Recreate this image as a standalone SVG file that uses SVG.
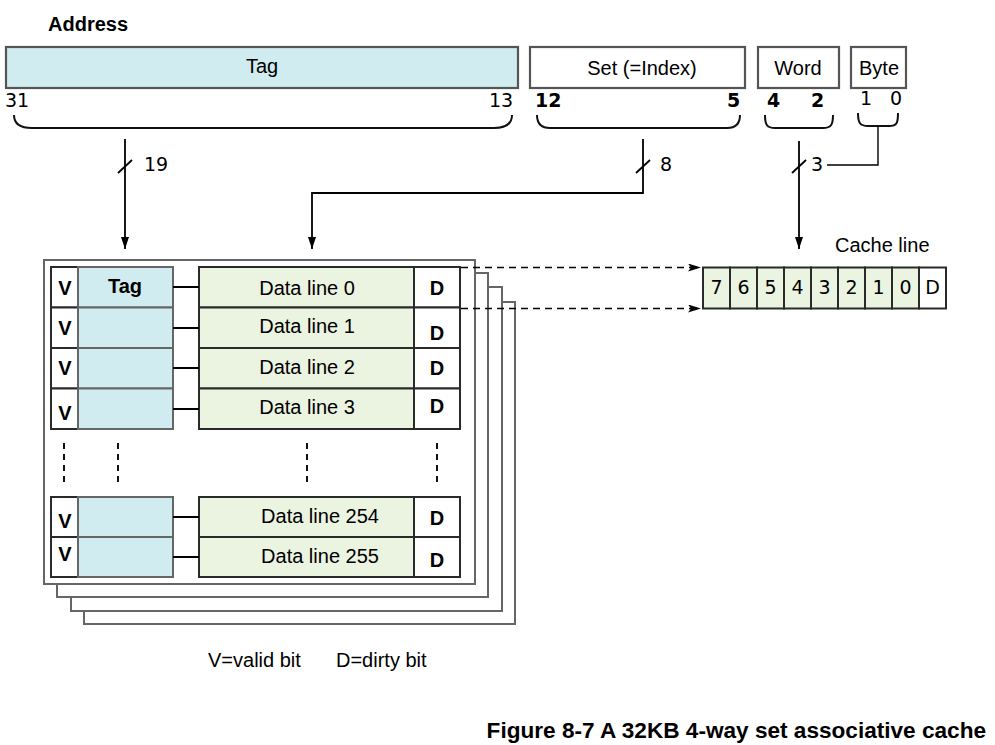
<svg xmlns="http://www.w3.org/2000/svg" width="995" height="745" viewBox="0 0 995 745">
<defs>
<marker id="ah" markerUnits="userSpaceOnUse" markerWidth="12" markerHeight="8" viewBox="0 0 12 8" refX="12" refY="4" orient="auto">
<path d="M0,0 L12,4 L0,8 z" fill="#000"/>
</marker>
<marker id="ahd" markerUnits="userSpaceOnUse" markerWidth="13" markerHeight="8" viewBox="0 0 13 8" refX="13" refY="4" orient="auto">
<path d="M0,0 L13,4 L0,8 L3,4 z" fill="#000"/>
</marker>
</defs>
<style>
.sans{font-family:"Liberation Sans",Arial,sans-serif;font-size:20px;fill:#000}
.b{font-weight:bold}
.num{font-family:"DejaVu Sans",sans-serif;font-size:19px;fill:#000}
.fld{stroke:#555;stroke-width:2.2}
.cell{stroke:#3a3a3a;stroke-width:2}
.tagc{fill:#d0ecf0;stroke:#666;stroke-width:2}
.datac{fill:#ebf3e1;stroke:#2a2a2a;stroke-width:2}
.wc{fill:#fff;stroke:#2a2a2a;stroke-width:2}
.frame{fill:#fff;stroke:#666;stroke-width:2}
.ln{fill:none;stroke:#000;stroke-width:1.8}
.br{fill:none;stroke:#111;stroke-width:2}
.dash{fill:none;stroke:#000;stroke-width:1.6;stroke-dasharray:7,5}
.vdash{fill:none;stroke:#111;stroke-width:2;stroke-dasharray:6,5}
.mid{text-anchor:middle}
</style>
<rect width="995" height="745" fill="#fff"/>

<text class="sans b" x="48" y="31">Address</text>

<g id="addr-tag">
<rect class="fld" x="6" y="47" width="512" height="41" fill="#d0ecf0"/>
<text class="sans mid" x="262" y="73">Tag</text>
<text class="num" x="5" y="107">31</text>
<text class="num" x="489" y="107">13</text>
<path class="br" d="M14,115 C14,124 20,128 32,128 L494,128 C506,128 512,124 512,115"/>
</g>
<g id="addr-set">
<rect class="fld" x="530" y="47" width="215" height="41" fill="#fff"/>
<text class="sans mid" x="642" y="75">Set (=Index)</text>
<text class="num b" x="535" y="107">12</text>
<text class="num b" x="727" y="107">5</text>
<path class="br" d="M537,115 C537,124 541,128 550,128 L727,128 C736,128 740,124 740,115"/>
</g>
<g id="addr-word">
<rect class="fld" x="758" y="47" width="81" height="41" fill="#fff"/>
<text class="sans mid" x="798" y="75">Word</text>
<text class="num b" x="767" y="107">4</text>
<text class="num b" x="811" y="107">2</text>
<path class="br" d="M765,115 C765,125 767,128 775,128 L823,128 C831,128 833,125 833,115"/>
</g>
<g id="addr-byte">
<rect class="fld" x="851" y="47" width="55" height="41" fill="#fff"/>
<text class="sans mid" x="879" y="75">Byte</text>
<text class="num" x="860" y="105">1</text>
<text class="num" x="890" y="105">0</text>
<path class="br" d="M858,113 C858,123 860,126 868,126 L889,126 C897,126 898,123 898,113"/>
</g>

<g id="cache-ways">
<rect class="frame" x="84" y="302" width="431" height="322"/>
<rect class="frame" x="71" y="287" width="431" height="324"/>
<rect class="frame" x="57" y="273" width="431" height="324"/>
<rect class="frame" x="44" y="260" width="431" height="324"/>
</g>

<g id="way0">
<g id="row0">
<rect class="wc" x="51" y="267" width="27" height="40.5"/>
<rect class="tagc" x="78" y="267" width="95" height="40.5"/>
<rect class="datac" x="199" y="267" width="215" height="40.5"/>
<rect class="wc" x="414" y="267" width="46" height="40.5"/>
<text class="sans b mid" x="65" y="295">V</text>
<text class="sans b mid" x="125" y="293">Tag</text>
<text class="sans mid" x="307" y="295">Data line 0</text>
<text class="sans b mid" x="437" y="295">D</text>
</g>
<g id="row1">
<rect class="wc" x="51" y="307.5" width="27" height="40.5"/>
<rect class="tagc" x="78" y="307.5" width="95" height="40.5"/>
<rect class="datac" x="199" y="307.5" width="215" height="40.5"/>
<rect class="wc" x="414" y="307.5" width="46" height="40.5"/>
<text class="sans b mid" x="65" y="335">V</text>
<text class="sans mid" x="307" y="333">Data line 1</text>
<text class="sans b mid" x="437" y="340">D</text>
</g>
<g id="row2">
<rect class="wc" x="51" y="348" width="27" height="40.5"/>
<rect class="tagc" x="78" y="348" width="95" height="40.5"/>
<rect class="datac" x="199" y="348" width="215" height="40.5"/>
<rect class="wc" x="414" y="348" width="46" height="40.5"/>
<text class="sans b mid" x="65" y="375">V</text>
<text class="sans mid" x="307" y="374">Data line 2</text>
<text class="sans b mid" x="437" y="375">D</text>
</g>
<g id="row3">
<rect class="wc" x="51" y="388.5" width="27" height="40.5"/>
<rect class="tagc" x="78" y="388.5" width="95" height="40.5"/>
<rect class="datac" x="199" y="388.5" width="215" height="40.5"/>
<rect class="wc" x="414" y="388.5" width="46" height="40.5"/>
<text class="sans b mid" x="65" y="420">V</text>
<text class="sans mid" x="307" y="414">Data line 3</text>
<text class="sans b mid" x="437" y="413">D</text>
</g>
<g id="row254">
<rect class="wc" x="51" y="497" width="27" height="40"/>
<rect class="tagc" x="78" y="497" width="95" height="40"/>
<rect class="datac" x="199" y="497" width="215" height="40"/>
<rect class="wc" x="414" y="497" width="46" height="40"/>
<text class="sans b mid" x="65" y="528">V</text>
<text class="sans mid" x="320" y="523">Data line 254</text>
<text class="sans b mid" x="437" y="525">D</text>
</g>
<g id="row255">
<rect class="wc" x="51" y="537" width="27" height="40"/>
<rect class="tagc" x="78" y="537" width="95" height="40"/>
<rect class="datac" x="199" y="537" width="215" height="40"/>
<rect class="wc" x="414" y="537" width="46" height="40"/>
<text class="sans b mid" x="65" y="561">V</text>
<text class="sans mid" x="320" y="563">Data line 255</text>
<text class="sans b mid" x="437" y="567">D</text>
</g>
</g>

<g id="cache-line">
<text class="sans" x="835" y="252">Cache line</text>
<rect class="datac" x="703" y="267.5" width="27" height="41"/>
<rect class="datac" x="730" y="267.5" width="27" height="41"/>
<rect class="datac" x="757" y="267.5" width="27" height="41"/>
<rect class="datac" x="784" y="267.5" width="27" height="41"/>
<rect class="datac" x="811" y="267.5" width="27" height="41"/>
<rect class="datac" x="838" y="267.5" width="27" height="41"/>
<rect class="datac" x="865" y="267.5" width="27" height="41"/>
<rect class="datac" x="892" y="267.5" width="27" height="41"/>
<rect class="wc" x="919" y="267.5" width="27" height="41"/>
<text class="num mid" x="716.5" y="294">7</text>
<text class="num mid" x="743.5" y="294">6</text>
<text class="num mid" x="770.5" y="294">5</text>
<text class="num mid" x="797.5" y="294">4</text>
<text class="num mid" x="824.5" y="294">3</text>
<text class="num mid" x="851.5" y="294">2</text>
<text class="num mid" x="878.5" y="294">1</text>
<text class="num mid" x="905.5" y="294">0</text>
<text class="num mid" x="932.5" y="294">D</text>
</g>

<g id="connectors">
<path class="ln" d="M173,287 H199 M173,328 H199 M173,368 H199 M173,409 H199 M173,517 H199 M173,557 H199"/>
<path class="vdash" d="M64,443 V483 M118,443 V483 M307,443 V483 M437,443 V483"/>
<path class="ln" d="M125,139 V249" marker-end="url(#ah)"/>
<path class="ln" d="M118,173 L132,160"/>
<path class="ln" d="M643,139 V193 H312 V249" marker-end="url(#ah)"/>
<path class="ln" d="M636,173 L650,160"/>
<path class="ln" d="M799,141 V249" marker-end="url(#ah)"/>
<path class="ln" d="M792,173 L806,160"/>
<path class="ln" style="stroke-width:1.4" d="M878,126 V165 H827"/>
<path class="dash" d="M461,267.5 H701" marker-end="url(#ahd)"/>
<path class="dash" d="M461,308.5 H701" marker-end="url(#ahd)"/>
<text class="num" x="144" y="171">19</text>
<text class="num" x="660" y="171">8</text>
<text class="num" x="811" y="171">3</text>
</g>

<text class="sans" x="208" y="667">V=valid bit</text>
<text class="sans" x="336" y="667">D=dirty bit</text>
<text class="sans b" x="986" y="738" style="font-size:22.6px;text-anchor:end">Figure 8-7 A 32KB 4-way set associative cache</text>
</svg>
